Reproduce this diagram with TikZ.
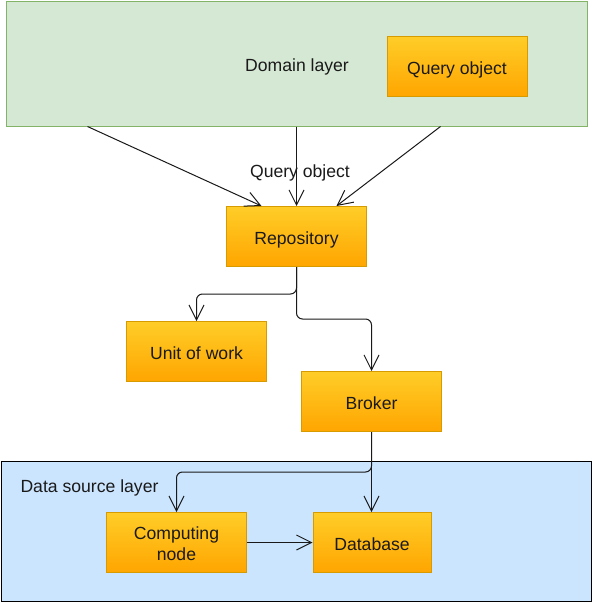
\documentclass[tikz,border=0pt]{standalone}
\usepackage{fontspec}
\setmainfont{Liberation Sans}
\usetikzlibrary{arrows.meta,calc}
\definecolor{orTop}{HTML}{FFCD28}
\definecolor{orBot}{HTML}{FFA500}
\definecolor{orLine}{HTML}{D79B00}
\definecolor{grFill}{HTML}{D5E8D4}
\definecolor{grLine}{HTML}{82B366}
\definecolor{blFill}{HTML}{CCE5FF}
\definecolor{txt}{HTML}{1A1A1A}
\tikzset{
  box/.style={draw=orLine, line width=1pt, top color=orTop, bottom color=orBot,
    minimum width=140pt, minimum height=60pt, inner sep=0pt, text=txt, align=center,
    text height=16.8pt, text depth=0pt},
  greenlayer/.style={draw=grLine, fill=grFill, line width=1pt, minimum width=581pt, minimum height=125pt, inner sep=0pt},
  bluelayer/.style={draw=black, fill=blFill, line width=1pt, minimum width=590pt, minimum height=140pt, inner sep=0pt},
  lbl/.style={text=txt, inner sep=0pt},
  conn/.style={draw=black!90, line width=1pt, rounded corners=6pt,
    -{Straight Barb[length=15pt,width=15pt]}},
}
\begin{document}
\begin{tikzpicture}[x=1pt,y=-1pt,font=\fontsize{17.6}{21}\selectfont]
\useasboundingbox (0,0) rectangle (593,603);
% layers
\node[greenlayer] (dom) at (296.5,63.5) {};
\node[lbl] (domlbl) at (297,67) {Domain layer};
\node[box] (qo) at (457,66.5) {Query object};
\node[bluelayer] (dsl) at (296.5,531.5) {};
\node[lbl] (dsllbl) at (89.5,488) {Data source layer};
% boxes
\node[box] (repo) at (296.5,236.5) {Repository};
\node[box] (uow) at (196.5,351.5) {Unit of work};
\node[box] (broker) at (371.5,401.5) {Broker};
\node[box, text height=35.6pt, text depth=0.6pt] (cn) at (176.5,542.5) {Computing\\node};
\node[box, minimum width=118pt] (db) at (372,542.5) {Database};
% connectors
\draw[conn] ([xshift=82pt]dom.south west) -- ([xshift=-35pt]repo.north);
\draw[conn] (dom.south -| repo.north) -- (repo.north);
\draw[conn] ([xshift=-147pt]dom.south east) -- ([xshift=40pt]repo.north);
\node[lbl] (qlbl) at (300,173) {Query object};
\draw[conn] (repo.south) -- (repo.south |- 0,294) -- (uow.north |- 0,294) -- (uow.north);
\draw[conn] (repo.south) -- (repo.south |- 0,319) -- (broker.north |- 0,319) -- (broker.north);
\draw[conn] (broker.south) -- (broker.south |- 0,472) -- (cn.north |- 0,472) -- (cn.north);
\draw[conn] (broker.south) -- (broker.south |- db.north);
\draw[conn] (cn.east) -- (db.west);
\end{tikzpicture}
\end{document}
